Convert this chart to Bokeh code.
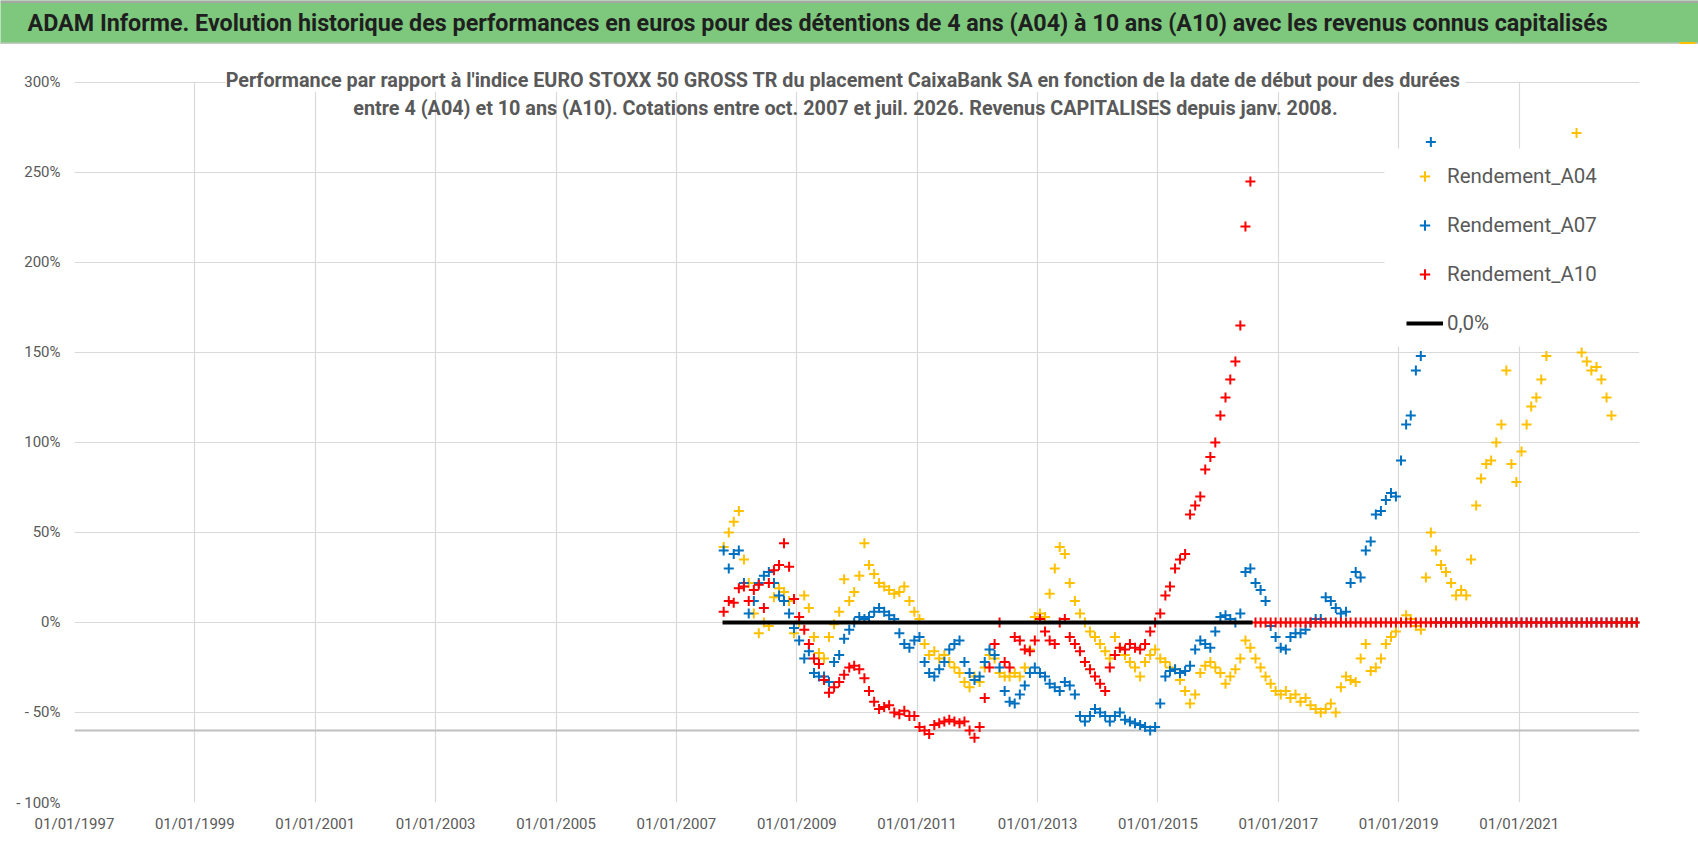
import pandas as pd
from bokeh.plotting import figure
from bokeh.layouts import column
from bokeh.models import (FixedTicker, DatetimeTickFormatter, Range1d, Span, Legend,
                          LegendItem, BoxAnnotation, Label)
from bokeh.embed import file_html
from bokeh.resources import INLINE

TITLE = ("ADAM Informe. Evolution historique des performances en euros pour des détentions "
         "de 4 ans (A04) à 10 ans (A10) avec les revenus connus capitalisés")
SUBTITLE_1 = ("Performance par rapport à l'indice EURO STOXX 50 GROSS TR  du placement CaixaBank SA "
              "en fonction de la date de début pour des durées")
SUBTITLE_2 = ("entre 4 (A04) et 10 ans (A10). Cotations entre oct. 2007 et juil. 2026. "
              "Revenus CAPITALISES depuis janv. 2008.")

SERIES_NAMES = ["Rendement_A04", "Rendement_A07", "Rendement_A10"]
ZERO_NAME = "0,0%"

# monthly readings (%), first value = October 2007, last = December 2022
SERIES_START = "2007-10-01"
A04 = [42, 50, 56,
       62, 35, 22, 5, -6, 0, -2, 14, 19, 17, 12, -6,
       0, 15, 8, -8, -17, -20, -8, -1, 6, 24, 12, 17,
       26, 44, 32, 27, 22, 20, 18, 16, 17, 20, 12, 6,
       2, -12, -18, -16, -20, -18, -22, -25, -28, -33, -36, -30,
       -33, -25, -18, -20, -28, -30, -30, -28, -30, -25, -15, 3,
       5, 3, 16, 30, 42, 38, 22, 12, 5, 0, -5, -8,
       -12, -16, -20, -8, -14, -18, -22, -25, -30, -22, -18, -15,
       -20, -22, -25, -26, -32, -38, -45, -40, -28, -24, -22, -25,
       -28, -34, -30, -26, -20, -10, -14, -20, -25, -30, -34, -38,
       -40, -38, -42, -40, -44, -42, -46, -48, -50, -48, -45, -50,
       -36, -30, -32, -33, -20, -12, -27, -25, -20, -12, -8, -5,
       0, 4, 2, -2, -4, 25, 50, 40, 32, 28, 22, 15,
       18, 15, 35, 65, 80, 88, 90, 100, 110, 140, 88, 78,
       95, 110, 120, 125, 135, 148, 175, 200, 220, 240, 255, 272,
       150, 145, 140, 142, 135, 125, 115,
       0, 0, 0, 0, 0]
A07 = [40, 30, 38,
       40, 22, 5, 12, 22, 26, 28, 22, 15, 12, 5, -3,
       -10, -20, -16, -28, -30, -30, -33, -22, -18, -9, -4, 0,
       3, 2, 3, 6, 8, 6, 4, 2, -6, -12, -14, -10,
       -8, -22, -28, -30, -26, -22, -15, -12, -10, -22, -28, -32,
       -30, -22, -15, -18, -25, -38, -44, -45, -40, -35, -28, -25,
       -28, -30, -34, -36, -38, -33, -35, -40, -52, -55, -52, -48,
       -50, -52, -55, -52, -50, -54, -55, -56, -57, -58, -60, -58,
       -45, -30, -27, -26, -28, -27, -24, -15, -10, -12, -14, -5,
       3, 4, 2, 0, 5, 28, 30, 22, 18, 12, -2, -8,
       -14, -15, -8, -6, -6, -4, 0, 2, 2, 14, 12, 8,
       5, 6, 22, 28, 25, 40, 45, 60, 62, 68, 72, 70,
       90, 110, 115, 140, 148, 200, 267,
       0, 0, 0, 0, 0,
       0, 0, 0, 0, 0, 0, 0, 0, 0, 0, 0, 0,
       0, 0, 0, 0, 0, 0, 0, 0, 0, 0, 0, 0,
       0, 0, 0, 0, 0, 0, 0, 0, 0, 0, 0, 0]
A10 = [6, 12, 11,
       19, 20, 12, 18, 21, 8, 22, 29, 32, 44, 31, 13,
       3, -4, -12, -20, -23, -32, -39, -36, -33, -29, -25, -24,
       -26, -31, -38, -44, -48, -47, -46, -50, -51, -49, -52, -52,
       -58, -60, -62, -57, -56, -55, -54, -55, -56, -55, -60, -64,
       -58, -42, -25, -12, 0, -22, -25, -8, -10, -15, -16, -10,
       2, -5, -10, -12, 0, 2, -8, -12, -16, -22, -26, -30,
       -34, -38, -25, -18, -14, -15, -12, -14, -15, -12, -5, 0,
       5, 15, 20, 30, 35, 38, 60, 65, 70, 85, 92, 100,
       115, 125, 135, 145, 165, 220, 245,
       0, 0, 0, 0, 0,
       0, 0, 0, 0, 0, 0, 0, 0, 0, 0, 0, 0,
       0, 0, 0, 0, 0, 0, 0, 0, 0, 0, 0, 0,
       0, 0, 0, 0, 0, 0, 0, 0, 0, 0, 0, 0,
       0, 0, 0, 0, 0, 0, 0, 0, 0, 0, 0, 0,
       0, 0, 0, 0, 0, 0, 0, 0, 0, 0, 0, 0,
       0, 0, 0, 0, 0, 0, 0, 0, 0, 0, 0, 0]

ZERO_LINE_DATES = ["2007-10-08", "2016-07-28"]
ZERO_LINE_VALUES = [0, 0]
AXIS_CROSS_VALUE = -60

X_START, X_END = "1997-01-01", "2023-01-01"
X_TICK_DATES = ["1997-01-01", "1999-01-01", "2001-01-01", "2003-01-01", "2005-01-01",
                "2007-01-01", "2009-01-01", "2011-01-01", "2013-01-01", "2015-01-01",
                "2017-01-01", "2019-01-01", "2021-01-01"]
Y_START, Y_END = -100, 300
Y_HEADROOM = 21.1          # empty band above 300% that holds the subtitle
Y_TICKS = [-100, -50, 0, 50, 100, 150, 200, 250, 300]
Y_TICK_LABELS = ["- 100%", "- 50%", "0%", "50%", "100%", "150%", "200%", "250%", "300%"]

COLORS = ["#FFC000", "#0070C0", "#FF0000"]
GREEN = "#7DC87D"
TEXT_GREY = "#595959"
GRID = "#D9D9D9"
FONT = "Roboto"

W = 1698
BANNER_H = 44
FRAME_W, FRAME_H = 1565, 758
LEFT, RIGHT, BOTTOM = 74, 59, 54


def month_dates(n):
    return pd.date_range(SERIES_START, periods=n, freq="MS") + pd.Timedelta(days=14)


# ---------------- banner ----------------
banner = figure(width=W, height=BANNER_H, min_border=0, title=None,
                x_range=Range1d(0, 1), y_range=Range1d(0, 1),
                x_axis_location=None, y_axis_location=None,
                output_backend="svg", toolbar_location=None,
                background_fill_color=GREEN, border_fill_color=GREEN,
                outline_line_color=None)
banner.grid.visible = False
banner.add_layout(BoxAnnotation(bottom=BANNER_H - 2.5, bottom_units="screen",
                                fill_color="#A6A6A6", fill_alpha=1, line_color=None))
banner.add_layout(BoxAnnotation(top=2, top_units="screen",
                                fill_color="#C8C8C8", fill_alpha=1, line_color=None))
banner.add_layout(BoxAnnotation(left=1679, right=1695, top=2.5,
                                left_units="screen", right_units="screen", top_units="screen",
                                fill_color="#FFC000", fill_alpha=1, line_color=None))
banner.add_layout(Label(x=27, y=21.5, x_units="screen", y_units="screen", text=TITLE,
                        text_font=FONT, text_font_style="bold", text_font_size="23.3px",
                        text_color="#1F1F1F", text_align="left", text_baseline="middle"))

# ---------------- main chart ----------------
p = figure(x_axis_type="datetime", frame_width=FRAME_W, frame_height=FRAME_H,
           min_border_left=LEFT, min_border_right=RIGHT, min_border_top=0,
           min_border_bottom=BOTTOM, title=None,
           x_range=Range1d(pd.Timestamp(X_START), pd.Timestamp(X_END)),
           y_range=Range1d(Y_START, Y_END + Y_HEADROOM),
           output_backend="svg", toolbar_location=None,
           background_fill_color="white", border_fill_color="white",
           outline_line_color=None)

for fig in (banner, p):
    try:
        fig.frame_align = False
    except Exception:
        pass

x_ticker = FixedTicker(ticks=[pd.Timestamp(d).value / 1e6 for d in X_TICK_DATES])
fmt = "%d/%m/%Y"
p.xaxis.ticker = x_ticker
p.xaxis.formatter = DatetimeTickFormatter(milliseconds=fmt, seconds=fmt, minsec=fmt, minutes=fmt,
                                          hourmin=fmt, hours=fmt, days=fmt, months=fmt, years=fmt)
p.yaxis.ticker = FixedTicker(ticks=Y_TICKS)
p.yaxis.major_label_overrides = {t: lab for t, lab in zip(Y_TICKS, Y_TICK_LABELS)}
for ax in (p.xaxis[0], p.yaxis[0]):
    ax.axis_line_color = None
    ax.major_tick_line_color = None
    ax.minor_tick_line_color = None
    ax.major_tick_out = 0
    ax.major_tick_in = 0
    ax.minor_tick_out = 0
    ax.major_label_text_font = FONT
    ax.major_label_text_font_size = "15px"
    ax.major_label_text_color = TEXT_GREY
p.xaxis.major_label_standoff = 12
p.yaxis.major_label_standoff = 14

p.xgrid.ticker = x_ticker
p.ygrid.ticker = FixedTicker(ticks=Y_TICKS)
p.xgrid.grid_line_color = GRID
p.ygrid.grid_line_color = GRID
p.xgrid.grid_line_width = 1.2
p.ygrid.grid_line_width = 1.2

# blank band above the 300% line (hides the vertical grid lines there)
p.add_layout(BoxAnnotation(bottom=Y_END + 0.4, fill_color="white", fill_alpha=1,
                           line_color=None, level="underlay"))
p.add_layout(Span(location=AXIS_CROSS_VALUE, dimension="width", line_color="#BFBFBF",
                  line_width=2, level="underlay"))

renderers = []
for vals, col in zip([A04, A07, A10], COLORS):
    r = p.scatter(x=month_dates(len(vals)), y=vals, marker="cross", size=10,
                  line_color=col, line_width=2)
    renderers.append(r)
r0 = p.line(x=pd.to_datetime(ZERO_LINE_DATES), y=ZERO_LINE_VALUES,
            line_color="black", line_width=4)

# subtitle (screen px measured from the frame's bottom-left corner)
p.add_layout(Label(x=771, y=722, x_units="screen", y_units="screen", text=SUBTITLE_1,
                   text_font=FONT, text_font_style="bold", text_font_size="19.8px",
                   text_color=TEXT_GREY, text_align="center", text_baseline="middle",
                   background_fill_color="white", background_fill_alpha=1))
p.add_layout(Label(x=771, y=694, x_units="screen", y_units="screen", text=SUBTITLE_2,
                   text_font=FONT, text_font_style="bold", text_font_size="19.8px",
                   text_color=TEXT_GREY, text_align="center", text_baseline="middle"))

# legend
p.add_layout(BoxAnnotation(left=1310, right=1565, bottom=456, top=654,
                           left_units="screen", right_units="screen",
                           top_units="screen", bottom_units="screen",
                           fill_color="white", fill_alpha=1, line_color=None))
items = [LegendItem(label=n, renderers=[r]) for n, r in zip(SERIES_NAMES, renderers)]
items.append(LegendItem(label=ZERO_NAME, renderers=[r0]))
legend = Legend(items=items, location=(1332, 466), orientation="vertical",
                background_fill_color="white", background_fill_alpha=1,
                border_line_color=None, label_text_font=FONT, label_text_font_size="20.5px",
                label_text_color=TEXT_GREY, glyph_width=37, glyph_height=26,
                label_height=26, spacing=23, padding=10, label_standoff=4, margin=0)
p.add_layout(legend)

layout = column(banner, p, spacing=0)

with open("out.html", "w") as f:
    f.write(file_html(layout, INLINE))
